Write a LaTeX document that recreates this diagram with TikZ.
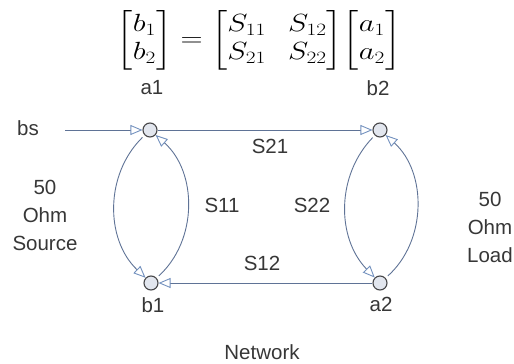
\documentclass[tikz,border=0pt]{standalone}
\usepackage{amsmath}
\usepackage{graphicx}
\usepackage[no-math]{fontspec}
\setmainfont{Liberation Sans}
\usetikzlibrary{arrows.meta}
\definecolor{portfill}{RGB}{226,230,238}
\definecolor{portdraw}{RGB}{70,70,72}
\definecolor{flowline}{RGB}{95,115,150}
\definecolor{arrowc}{RGB}{115,145,190}
\definecolor{txt}{RGB}{55,55,55}
\begin{document}
\begin{tikzpicture}[x=1pt,y=-1pt,
  port/.style={circle,draw=portdraw,fill=portfill,line width=1.1pt,minimum size=14pt,inner sep=0pt},
  lbl/.style={font=\fontsize{20.5}{28}\selectfont,text=txt,align=center,inner sep=0pt},
  flow/.style={draw=flowline,line width=0.9pt,-{Triangle[open,length=12pt,width=10pt,color=arrowc]}}
]
\useasboundingbox (0,0) rectangle (514,364);
% equation
\node[inner sep=0pt] (eq) at (259,40) {\scalebox{1.23}[1]{\fontsize{23}{28}\selectfont\setlength{\arraycolsep}{9pt}$\begin{bmatrix} b_1\\ b_2\end{bmatrix}=\begin{bmatrix} S_{11} & S_{12}\\ S_{21} & S_{22}\end{bmatrix}\!\begin{bmatrix} a_1\\ a_2\end{bmatrix}$}};
% ports
\node[port] (a1) at (150,130) {};
\node[port] (b2) at (380,130) {};
\node[port] (b1) at (151,283) {};
\node[port] (a2) at (380,283) {};
% labels
\node[lbl] (la1) at (152,88) {a1};
\node[lbl] (lb2) at (378,88) {b2};
\node[lbl] (lb1) at (153,305) {b1};
\node[lbl] (la2) at (381,304) {a2};
\node[lbl] (bs) at (28,128) {bs};
\node[lbl] (src) at (45,215) {50\\Ohm\\Source};
\node[lbl] (load) at (490,227) {50\\Ohm\\Load};
\node[lbl] (net) at (262,352) {Network};
\node[lbl] (s21) at (270,146) {S21};
\node[lbl] (s11) at (222,205) {S11};
\node[lbl] (s22) at (312,205) {S22};
\node[lbl] (s12) at (262,263) {S12};
% connectors
\coordinate (bsstart) at (65,130);
\draw[flow] (bsstart) -- (a1);
\draw[flow] (a1) -- (b2);
\draw[flow] (a2) -- (b1);
\draw[flow,shorten <=3pt] (a1) to[bend right=46] (b1);
\draw[flow,shorten <=3pt] (b1) to[bend right=48] (a1);
\draw[flow,shorten <=3pt] (b2) to[bend right=44] (a2);
\draw[flow,shorten <=3pt] (a2) to[bend right=48] (b2);
\end{tikzpicture}
\end{document}
